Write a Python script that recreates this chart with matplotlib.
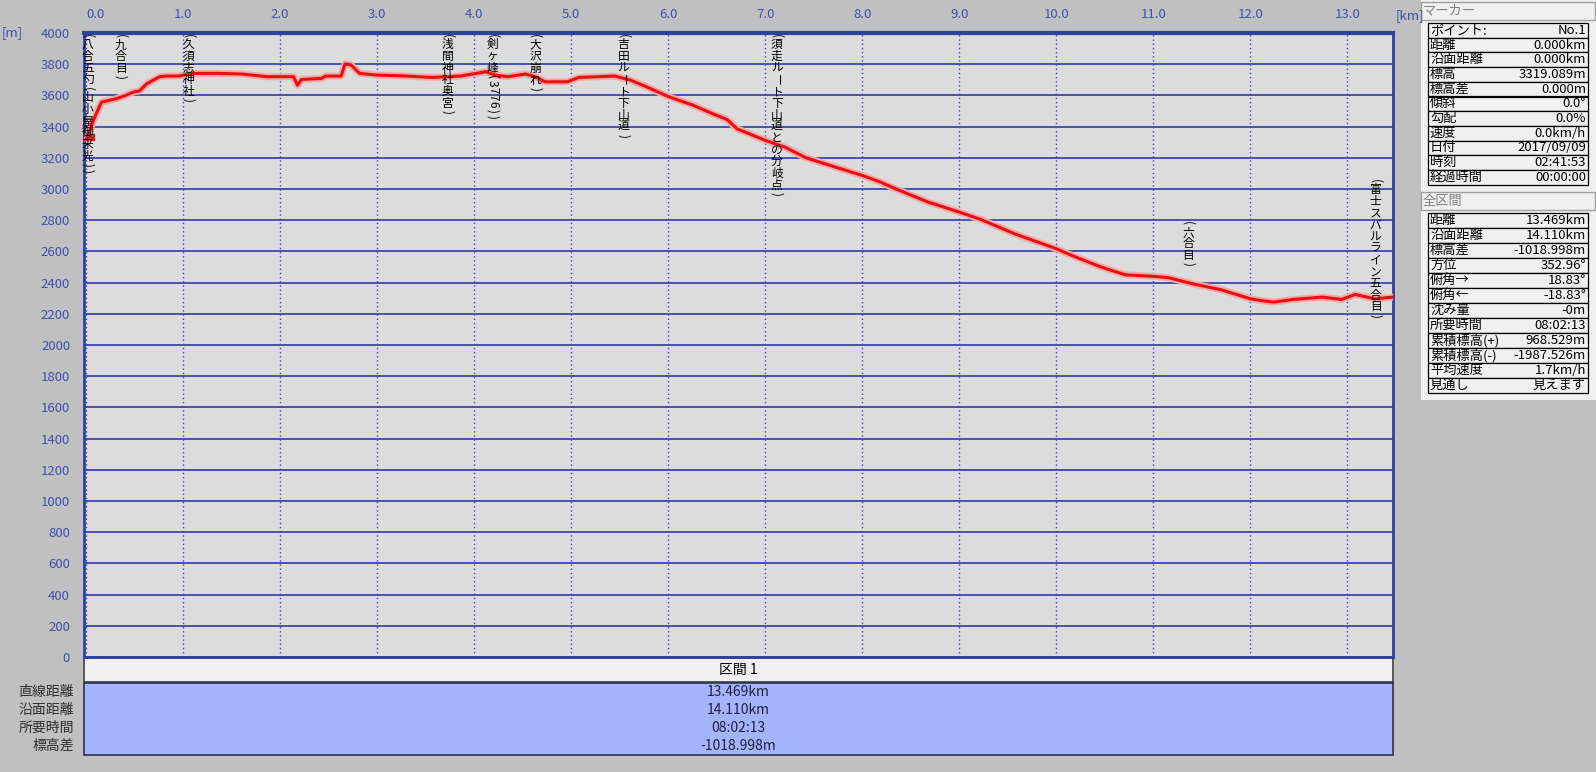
import matplotlib
matplotlib.use('Agg')
import matplotlib.pyplot as plt
from matplotlib.patches import Rectangle
from matplotlib.transforms import offset_copy

plt.rcParams['font.family'] = ['Noto Sans CJK JP', 'DejaVu Sans']

# elevation profile
dist_km = [0.0, 0.03, 0.07, 0.12, 0.16, 0.31, 0.41, 0.49, 0.55, 0.63, 0.76, 0.84, 0.96,
           1.08, 1.37, 1.61, 1.86, 2.14, 2.18, 2.22, 2.43, 2.47, 2.63, 2.67, 2.73, 2.82,
           3.0, 3.24, 3.57, 3.86, 4.02, 4.12, 4.22, 4.35, 4.53, 4.63, 4.73, 4.96, 5.08,
           5.29, 5.45, 5.61, 5.78, 6.0, 6.26, 6.46, 6.61, 6.71, 7.0, 7.2, 7.42, 7.7,
           8.0, 8.19, 8.34, 8.68, 9.0, 9.23, 9.57, 10.0, 10.16, 10.46, 10.71, 11.0,
           11.16, 11.4, 11.7, 12.0, 12.14, 12.24, 12.44, 12.74, 12.94, 13.08, 13.28, 13.469]
elev_m = [3319, 3350, 3430, 3502, 3557, 3578, 3600, 3622, 3628, 3676, 3720, 3724, 3724,
          3741, 3741, 3737, 3720, 3720, 3665, 3702, 3709, 3724, 3724, 3802, 3796, 3741,
          3730, 3726, 3715, 3724, 3741, 3752, 3730, 3720, 3737, 3720, 3687, 3687, 3715,
          3720, 3724, 3698, 3654, 3593, 3536, 3482, 3444, 3386, 3312, 3269, 3200, 3145,
          3087, 3044, 3002, 2916, 2852, 2803, 2713, 2617, 2574, 2500, 2450, 2440,
          2431, 2393, 2354, 2296, 2282, 2275, 2292, 2307, 2292, 2324, 2296, 2307]

landmark_names = ['(八合五勺(山小屋御来光))', '(九合目)', '(久須志神社)', '(浅間神社奥宮)',
                  '(剣ヶ峰(3776))', '(大沢崩れ)', '(吉田ルート下山道)',
                  '(須走ルート下山道との分岐点)', '(六合目)', '(富士スバルライン五合目)']
landmark_km = [0.02, 0.36, 1.06, 3.73, 4.19, 4.63, 5.54, 7.12, 11.36, 13.29]
landmark_top = [4000, 4000, 4000, 4000, 4000, 4000, 4000, 4000, 2800, 3070]

x_ticks = list(range(14))
y_ticks = list(range(0, 4001, 200))

marker_labels = ['ポイント:', '距離', '沿面距離', '標高', '標高差', '傾斜', '勾配',
                 '速度', '日付', '時刻', '経過時間']
marker_values = ['No.1', '0.000km', '0.000km', '3319.089m', '0.000m', '0.0°', '0.0%',
                 '0.0km/h', '2017/09/09', '02:41:53', '00:00:00']
total_labels = ['距離', '沿面距離', '標高差', '方位', '俯角→', '俯角←', '沈み量',
                '所要時間', '累積標高(+)', '累積標高(-)', '平均速度', '見通し']
total_values = ['13.469km', '14.110km', '-1018.998m', '352.96°', '18.83°', '-18.83°',
                '-0m', '08:02:13', '968.529m', '-1987.526m', '1.7km/h', '見えます']
section_labels = ['直線距離', '沿面距離', '所要時間', '標高差']
section_values = ['13.469km', '14.110km', '08:02:13', '-1018.998m']

BLUE = '#3848b0'
TICK = '#4050b0'

fig = plt.figure(figsize=(15.96, 7.72), dpi=100, facecolor='#c0c0c0')

# pixel overlay for the panels around the chart
ov = fig.add_axes([0, 0, 1, 1], zorder=0)
ov.set_xlim(0, 1596)
ov.set_ylim(772, 0)
ov.axis('off')

ov.add_patch(Rectangle((1421, 0), 175, 400, fc='#f0f0f0', ec='none'))


def side_table(head, top, labels, values, row_h):
    ov.add_patch(Rectangle((1421, top - 21), 174, 18, fc='#f0f0f0', ec='#a0a0a0', lw=1))
    ov.text(1423, top - 12, head, fontsize=9.5, color='#808080', va='center')
    for i, (lab, val) in enumerate(zip(labels, values)):
        y = top + i * row_h
        ov.add_patch(Rectangle((1428, y), 160, row_h, fc='#f0f0f0', ec='black', lw=0.9))
        ov.text(1430, y + row_h / 2, lab, fontsize=9.5, va='center', ha='left')
        ov.text(1586, y + row_h / 2, val, fontsize=9.5, va='center', ha='right')


side_table('マーカー', 23, marker_labels, marker_values, 14.7)
side_table('全区間', 213, total_labels, total_values, 15.0)

# bottom section table
ov.add_patch(Rectangle((84, 658), 1309, 24, fc='#f0f0f0', ec='#404040', lw=1.2))
ov.text(738, 670, '区間 1', fontsize=10, ha='center', va='center')
ov.add_patch(Rectangle((84, 683), 1309, 72, fc='#a4b4fc', ec='#303050', lw=1.2))
for i, (lab, val) in enumerate(zip(section_labels, section_values)):
    ov.text(74, 692 + 18 * i, lab, fontsize=10, ha='right', va='center', color='#303030')
    ov.text(738, 692 + 18 * i, val, fontsize=10, ha='center', va='center', color='#202040')

ov.text(2, 33, '[m]', fontsize=9.5, color=TICK, va='center')
ov.text(1396, 16, '[km]', fontsize=9.5, color=TICK, va='center')

# main profile chart
ax = fig.add_axes([84 / 1596, 1 - 657 / 772, (1393 - 84) / 1596, (657 - 33) / 772], zorder=1)
ax.set_facecolor('#dcdcdc')
ax.set_xlim(-0.02, 13.47)
ax.set_ylim(0, 4000)

ax.xaxis.tick_top()
ax.set_xticks(x_ticks)
ax.set_xticklabels([f'{k:.1f}' for k in x_ticks])
ax.get_xticklabels()[0].set_ha('left')
ax.set_yticks(y_ticks)
ax.tick_params(axis='x', length=0, pad=9, labelcolor=TICK, labelsize=9.5)
ax.tick_params(axis='y', length=0, pad=10, labelcolor=TICK, labelsize=9.5)

ax.grid(axis='y', color=BLUE, lw=1.3, ls='-')
ax.grid(axis='x', color=BLUE, lw=1.0, ls=(0, (1, 2)))
ax.set_axisbelow(True)

for side, lw in [('top', 3), ('left', 2), ('right', 2), ('bottom', 2)]:
    ax.spines[side].set_color('#3040a0')
    ax.spines[side].set_linewidth(lw)

ax.plot(dist_km, elev_m, color='#f5a8a8', lw=5, solid_joinstyle='round', zorder=3)
ax.plot(dist_km, elev_m, color='#e81010', lw=2.2, solid_joinstyle='round', zorder=4)
ax.plot(dist_km[0] + 0.05, elev_m[0] + 15, 's', color='#b03020', ms=4, zorder=5)

# vertical landmark labels, one glyph at a time
for name, km, top in zip(landmark_names, landmark_km, landmark_top):
    off = 0
    for ch in name:
        turned = ch in '()ー0123456789'
        if ch in '()':
            step = 6
        elif ch.isdigit():
            step = 7
        else:
            step = 11.7
        tr = offset_copy(ax.transData, fig=fig, x=0, y=-(off + step / 2), units='dots')
        ax.text(km, top, ch, transform=tr, ha='center', va='center', fontsize=8.5,
                rotation=-90 if turned else 0, rotation_mode='anchor', zorder=6)
        off += step

fig.savefig('out.png', dpi=100, facecolor=fig.get_facecolor())
